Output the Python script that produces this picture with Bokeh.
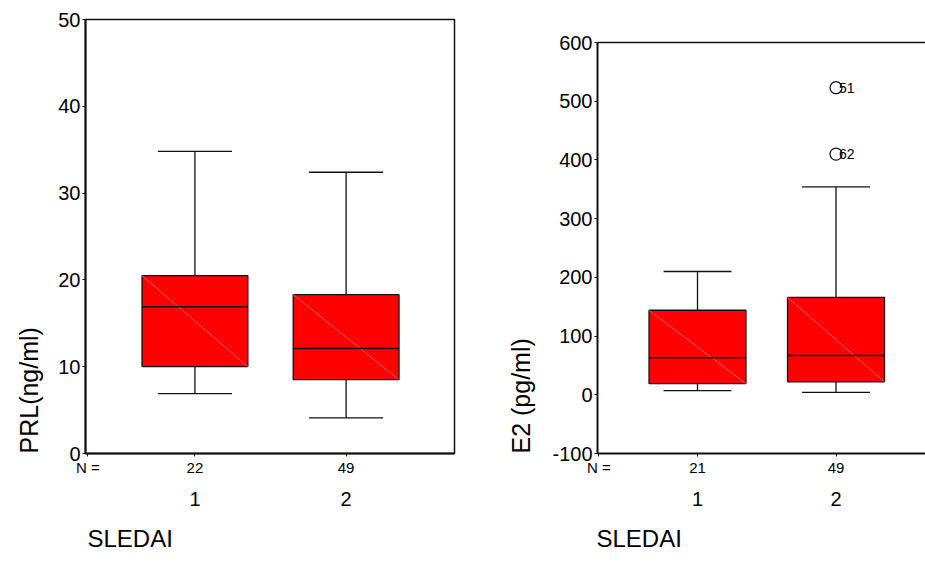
import numpy as np
from bokeh.plotting import figure
from bokeh.models import Range1d, FixedTicker, LinearAxis, Span, Title
from bokeh.layouts import row
from bokeh.core.properties import value
from bokeh.embed import file_html
from bokeh.resources import INLINE

# ---------------- data ----------------
groups = [1, 2]
group_labels = ["1", "2"]

prl_n = [22, 49]
prl_lo = [6.9, 4.1]
prl_q1 = [10.0, 8.5]
prl_med = [16.9, 12.1]
prl_q3 = [20.5, 18.3]
prl_hi = [34.8, 32.4]
prl_ticks = [0, 10, 20, 30, 40, 50]

e2_n = [21, 49]
e2_lo = [7, 4]
e2_q1 = [19, 22]
e2_med = [63, 67]
e2_q3 = [144, 166]
e2_hi = [210, 354]
e2_out_x = [2, 2]
e2_out_y = [523, 410]
e2_out_id = ["51", "62"]
e2_ticks = [-100, 0, 100, 200, 300, 400, 500, 600]

FONT = "Liberation Sans"
INK = "#111111"
BOX_W = 0.70
CAP_W = 0.49

H = 573
TOP, BOTTOM = 19, 120          # shared frame borders (rows align frames)


def style_axes(p, yticks, ybounds):
    p.grid.visible = False
    p.background_fill_color = "white"
    p.border_fill_color = "white"
    ya = p.yaxis[0]
    ya.ticker = FixedTicker(ticks=yticks)
    ya.bounds = ybounds
    ya.major_label_overrides = {t: str(t) for t in yticks}
    ya.major_label_text_font = FONT
    ya.major_label_text_font_size = "20px"
    ya.major_label_text_color = "black"
    ya.axis_line_width = 2
    ya.axis_line_color = INK
    ya.major_tick_out = 3
    ya.major_tick_in = 0
    ya.major_tick_line_color = INK
    ya.minor_tick_out = 0
    ya.minor_tick_in = 0
    ya.major_label_standoff = 2


def draw_boxes(p, lo, q1, med, q3, hi):
    x = np.array(groups, dtype=float)
    lo, q1, med, q3, hi = map(np.array, (lo, q1, med, q3, hi))
    p.segment(x, q3, x, hi, line_color=INK, line_width=1.3)
    p.segment(x, q1, x, lo, line_color=INK, line_width=1.3)
    p.segment(x - CAP_W / 2, hi, x + CAP_W / 2, hi, line_color=INK, line_width=1.3)
    p.segment(x - CAP_W / 2, lo, x + CAP_W / 2, lo, line_color=INK, line_width=1.3)
    p.vbar(x=x, width=BOX_W, bottom=q1, top=q3, fill_color="#ff0000",
           line_color=INK, line_width=1.3)
    p.segment(x - BOX_W / 2, q3, x + BOX_W / 2, q1, line_color="#ff9a9a",
              line_width=0.6)
    p.segment(x - BOX_W / 2, med, x + BOX_W / 2, med, line_color=INK, line_width=1.5)


def add_bottom_texts(p, xr, frame_w, n, n_dx, ylabel, ylab_standoff,
                     sled_offset):
    # main x axis: line, small ticks, and the "N =" / count row
    xn = round(xr.start + n_dx * (xr.end - xr.start) / frame_w, 4)
    xa = p.xaxis[0]
    xa.ticker = FixedTicker(ticks=[xn] + groups)
    xa.major_label_overrides = {xn: "N =", **{g: str(c) for g, c in zip(groups, n)}}
    xa.major_label_standoff = 2
    xa.major_label_text_font = FONT
    xa.major_label_text_font_size = "15px"
    xa.major_label_text_color = "black"
    xa.axis_line_width = 2
    xa.axis_line_color = INK
    xa.major_tick_out = 3
    xa.major_tick_in = 0
    xa.major_tick_line_color = INK
    xa.minor_tick_out = 0
    xa.minor_tick_in = 0
    # group labels
    ax_g = LinearAxis(ticker=FixedTicker(ticks=groups),
                      major_label_overrides={g: s for g, s in zip(groups, group_labels)},
                      axis_line_color=None, major_tick_line_color=None,
                      minor_tick_line_color=None, major_label_standoff=7,
                      major_label_text_font=FONT, major_label_text_font_size="20px",
                      major_label_text_color="black")
    p.add_layout(ax_g, "below")
    p.add_layout(Title(text="SLEDAI", align="left", offset=sled_offset,
                       standoff=28, text_font=FONT, text_font_size="24px",
                       text_font_style="normal", text_color="black"), "below")
    p.add_layout(Title(text=ylabel, align="left", standoff=ylab_standoff,
                       text_font=FONT, text_font_size="25px",
                       text_font_style="normal", text_color="black"), "left")


# ---------------- left panel: PRL ----------------
W1 = 470
L1, R1 = 83, 16
xr1 = Range1d(0.276, 2.717)
yr1 = Range1d(0, 50)
p1 = figure(width=W1, height=H, x_range=xr1, y_range=yr1,
            output_backend="svg", toolbar_location=None,
            min_border_left=L1, min_border_right=R1,
            min_border_top=TOP, min_border_bottom=BOTTOM)
style_axes(p1, prl_ticks, (0, 50))
p1.outline_line_color = INK
p1.outline_line_width = 1.5
draw_boxes(p1, prl_lo, prl_q1, prl_med, prl_q3, prl_hi)
add_bottom_texts(p1, xr1, W1 - L1 - R1, prl_n, 2.5, "PRL(ng/ml)", 25, 2)

# ---------------- right panel: E2 ----------------
W2 = 455
L2, R2 = 127, 0
E2_TOP_PX = 42                      # pixel row of the 600 line
ppu2 = (H - BOTTOM - E2_TOP_PX) / (600 - (-100))
xr2 = Range1d(0.278, 2.646)
yr2 = Range1d(-100, 600 + (E2_TOP_PX - TOP) / ppu2)
p2 = figure(width=W2, height=H, x_range=xr2, y_range=yr2,
            output_backend="svg", toolbar_location=None,
            min_border_left=L2, min_border_right=R2,
            min_border_top=TOP, min_border_bottom=BOTTOM)
style_axes(p2, e2_ticks, (-100, 600))
p2.outline_line_color = None
p2.add_layout(Span(location=600, dimension="width", line_color=INK, line_width=1.5))
draw_boxes(p2, e2_lo, e2_q1, e2_med, e2_q3, e2_hi)
p2.scatter(e2_out_x, e2_out_y, marker="circle", size=12, fill_color=None,
           line_color=INK, line_width=1.2)
p2.text(e2_out_x, e2_out_y, text=e2_out_id, x_offset=3, text_align="left",
        text_baseline="middle", text_font=value(FONT), text_font_size="14px",
        text_color="black")
add_bottom_texts(p2, xr2, W2 - L2 - R2, e2_n, 1.5, "E2 (pg/ml)", 29, -1)

layout = row(p1, p2)
open("out.html", "w").write(file_html(layout, INLINE))
